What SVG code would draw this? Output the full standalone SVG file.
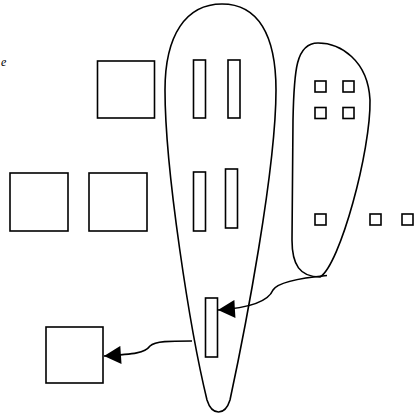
<svg xmlns="http://www.w3.org/2000/svg" width="416" height="416" viewBox="0 0 416 416">
<style>
.shape{fill:#fff;stroke:#000;stroke-width:1.6}
.blob{fill:none;stroke:#000;stroke-width:1.6}
.conn{fill:none;stroke:#000;stroke-width:1.6}
.lbl{font-family:"Liberation Serif",serif;font-style:italic;font-size:12px;fill:#000}
</style>
<defs>
<marker id="arr" markerUnits="userSpaceOnUse" markerWidth="18" markerHeight="18" viewBox="0 0 16 17" refX="16" refY="8.5" orient="auto">
<path d="M0,0 L16,8.5 L0,17 Z" fill="#000"/>
</marker>
</defs>
<rect width="416" height="416" fill="#fff"/>
<text class="lbl" x="1" y="66">e</text>
<g id="group-big">
<path class="blob" d="M222,4 C186,4 165,35 165,90 C165,170 190,330 207,400 C212,416 225,416 230,400 C245,330 276,170 276,90 C276,35 258,4 222,4 Z"/>
</g>
<g id="group-small">
<path class="blob" d="M318,43 C340,43 368,60 370,100 C371,150 340,265 320,277 C300,277 292,265 292,240 L293,120 C294,70 296,43 318,43 Z"/>
</g>
<g id="box1"><rect class="shape" x="97.5" y="61" width="57" height="57"/></g>
<g id="box2"><rect class="shape" x="10" y="173" width="58" height="58"/></g>
<g id="box3"><rect class="shape" x="89" y="173" width="58" height="58"/></g>
<g id="box4"><rect class="shape" x="46" y="327" width="57" height="56"/></g>
<g id="bar1"><rect class="shape" x="193.5" y="60" width="12" height="58"/></g>
<g id="bar2"><rect class="shape" x="228" y="60" width="12" height="58"/></g>
<g id="bar3"><rect class="shape" x="193.5" y="172" width="12" height="59"/></g>
<g id="bar4"><rect class="shape" x="225.5" y="169" width="12" height="59"/></g>
<g id="bar5"><rect class="shape" x="205.5" y="298" width="12" height="59"/></g>
<g id="sq1"><rect class="shape" x="315" y="81" width="11" height="11"/></g>
<g id="sq2"><rect class="shape" x="343" y="81" width="11" height="11"/></g>
<g id="sq3"><rect class="shape" x="315" y="107.5" width="11" height="11"/></g>
<g id="sq4"><rect class="shape" x="343" y="107.5" width="11" height="11"/></g>
<g id="sq5"><rect class="shape" x="315" y="214" width="11" height="11"/></g>
<g id="sq6"><rect class="shape" x="370" y="214" width="11" height="11"/></g>
<g id="sq7"><rect class="shape" x="402" y="214" width="11" height="11"/></g>
<g id="connectors">
<path class="conn" marker-end="url(#arr)" d="M327,275.5 C300,278 278,282 273,290 C268,302 250,308 218,310"/>
<path class="conn" marker-end="url(#arr)" d="M192,341 C170,341 155,341 150,346 C145,353 135,354 104,356"/>
</g>
</svg>
